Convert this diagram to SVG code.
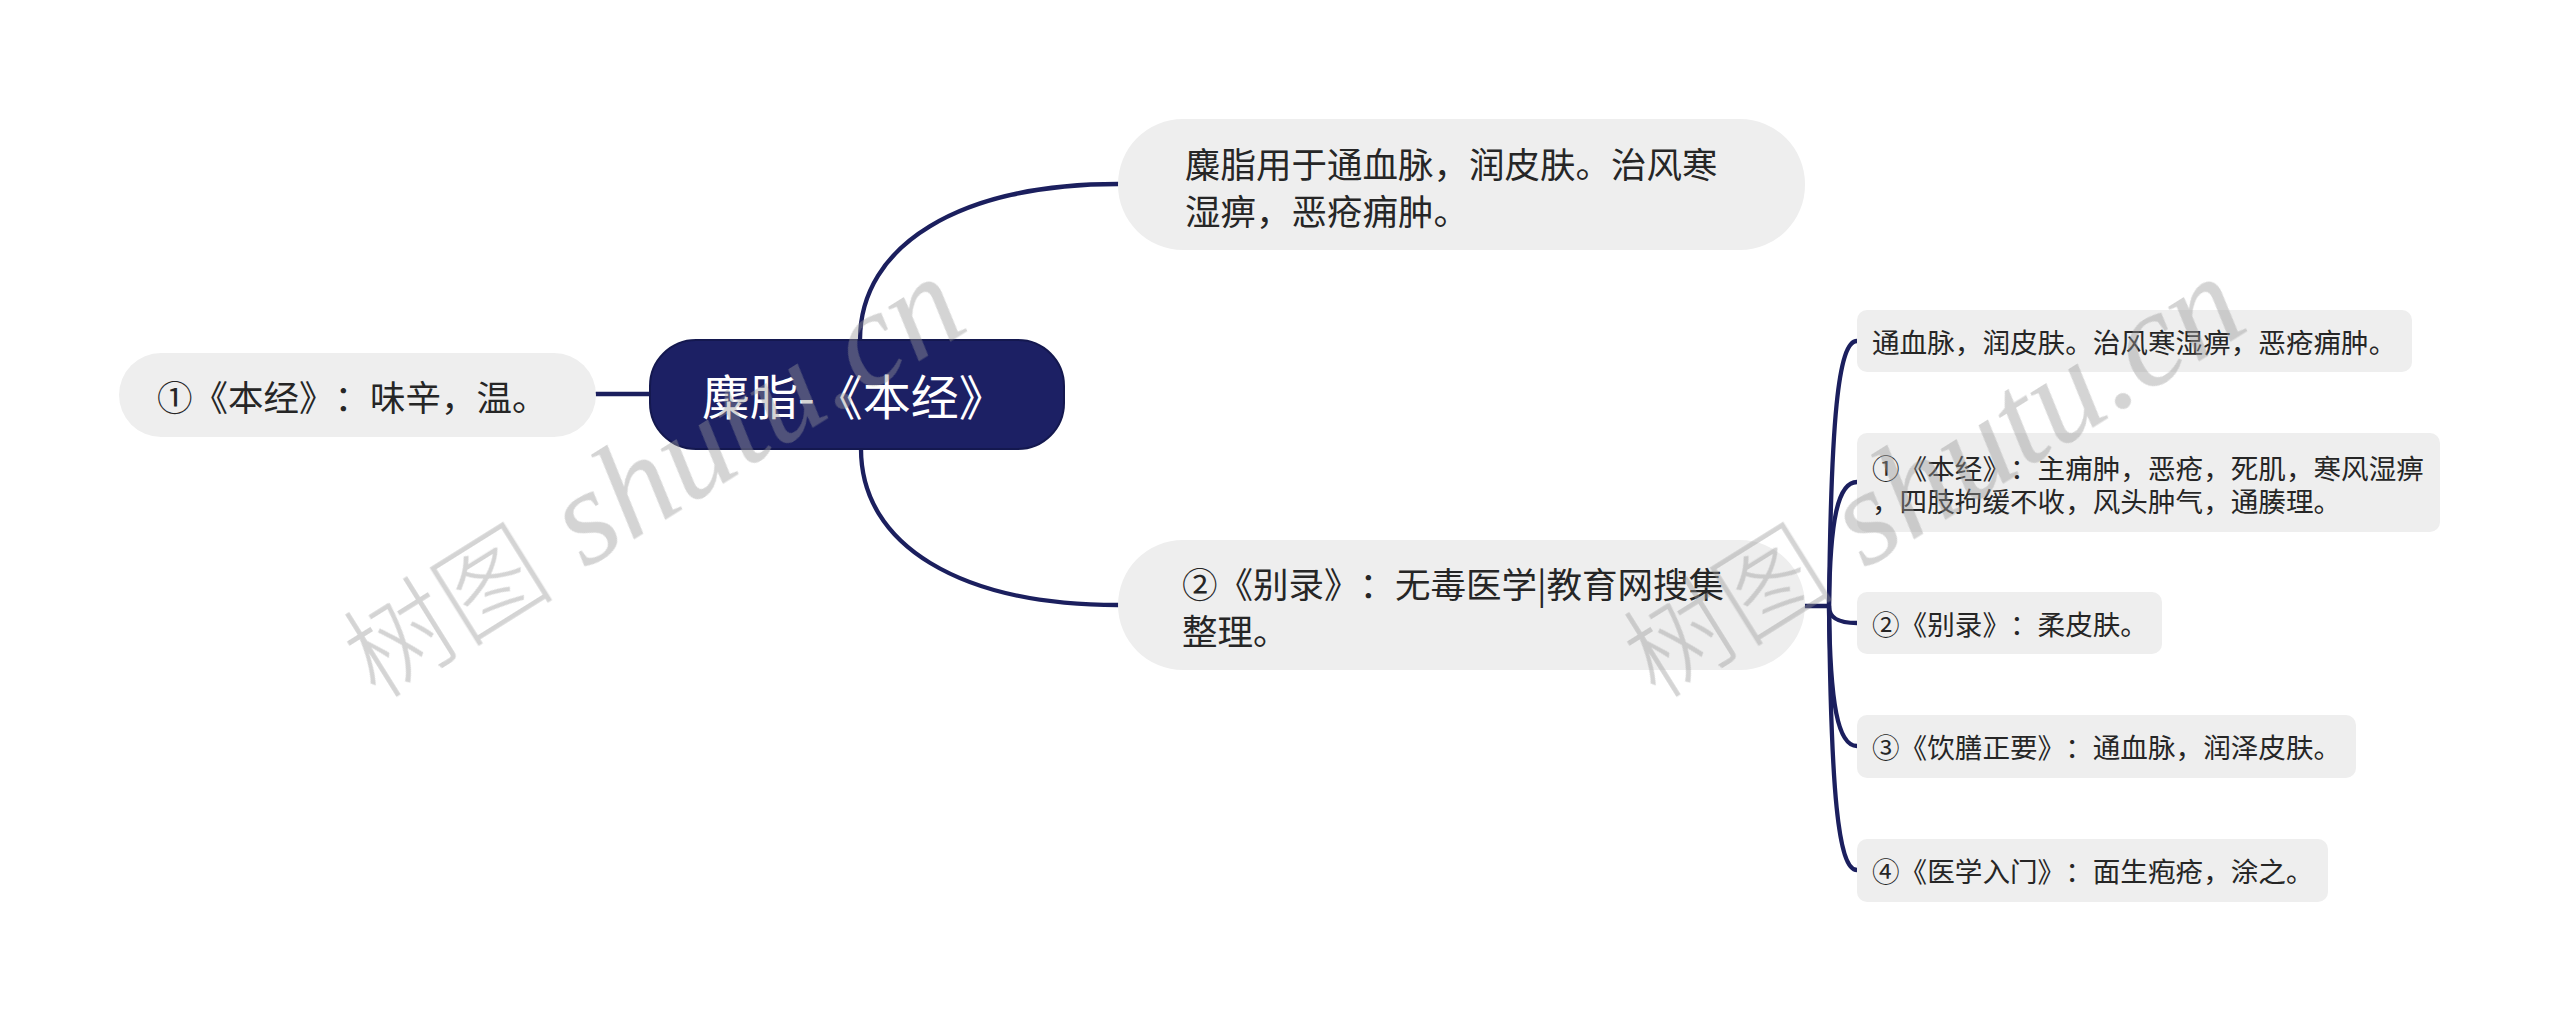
<svg xmlns="http://www.w3.org/2000/svg" width="2560" height="1021" viewBox="0 0 2560 1021">
<style>
.bg{fill:#ffffff}
.ln{fill:none;stroke:#1b1f5e;stroke-width:4.3;stroke-linecap:round}
.pill{fill:#eeeeee}
.leaf{fill:#eeeeee}
.root{fill:#1c2064;stroke:#14184f;stroke-width:2}
text{text-spacing-trim:space-all}
.t{font-family:"Noto Sans CJK SC","Noto Sans",sans-serif;fill:#262626;dominant-baseline:central}
.t1{font-size:35.5px}
.t2{font-size:27.6px}
.rt{font-family:"Noto Sans CJK SC","Noto Sans",sans-serif;fill:#ffffff;font-size:48px;dominant-baseline:central}
.wm{fill:#9a9a9a;opacity:0.42}
.wmc{font-family:"Noto Sans CJK SC",serif;font-size:106px;font-weight:300}
.wml{font-family:"Liberation Serif",serif;font-style:italic;font-size:136px}
</style>
<rect class="bg" x="0" y="0" width="2560" height="1021"/>
<g id="connectors">
  <path class="ln" d="M596 394 L650 394"/>
  <path class="ln" d="M860 340 C860 245 960 184 1118 184"/>
  <path class="ln" d="M861 449 C861 545 960 605 1118 605"/>
  <path class="ln" d="M1804 606 L1829 606"/>
  <path class="ln" d="M1829 606 C1831 421 1838 341 1857 341"/>
  <path class="ln" d="M1829 606 C1830 519 1838 482 1857 482"/>
  <path class="ln" d="M1829 606 C1829 618 1838 623 1857 623"/>
  <path class="ln" d="M1829 606 C1830 705 1838 746 1857 746"/>
  <path class="ln" d="M1829 606 C1831 791 1838 870 1857 870"/>
</g>
<g id="root">
  <rect class="root" x="650" y="340" width="414" height="109" rx="46"/>
  <text class="rt" x="702" y="394">麋脂-《本经》</text>
</g>
<g id="n-left">
  <rect class="pill" x="119" y="353" width="477" height="84" rx="42"/>
  <text class="t t1" x="157" y="395">①《本经》：味辛，温。</text>
</g>
<g id="n-top">
  <rect class="pill" x="1118" y="119" width="687" height="131" rx="65"/>
  <text class="t t1" x="1185" y="162">麋脂用于通血脉，润皮肤。治风寒</text>
  <text class="t t1" x="1185" y="209">湿痹，恶疮痈肿。</text>
</g>
<g id="n-bottom">
  <rect class="pill" x="1118" y="540" width="687" height="130" rx="65"/>
  <text class="t t1" x="1182" y="582">②《别录》：无毒医学|教育网搜集</text>
  <text class="t t1" x="1182" y="629">整理。</text>
</g>
<g id="c1">
  <rect class="leaf" x="1857" y="310" width="555" height="62" rx="10"/>
  <text class="t t2" x="1872" y="341">通血脉，润皮肤。治风寒湿痹，恶疮痈肿。</text>
</g>
<g id="c2">
  <rect class="leaf" x="1857" y="433" width="583" height="99" rx="10"/>
  <text class="t t2" x="1872" y="467">①《本经》：主痈肿，恶疮，死肌，寒风湿痹</text>
  <text class="t t2" x="1872" y="500">，四肢拘缓不收，风头肿气，通腠理。</text>
</g>
<g id="c3">
  <rect class="leaf" x="1857" y="592" width="305" height="62" rx="10"/>
  <text class="t t2" x="1872" y="623">②《别录》：柔皮肤。</text>
</g>
<g id="c4">
  <rect class="leaf" x="1857" y="715" width="499" height="63" rx="10"/>
  <text class="t t2" x="1872" y="746">③《饮膳正要》：通血脉，润泽皮肤。</text>
</g>
<g id="c5">
  <rect class="leaf" x="1857" y="839" width="471" height="63" rx="10"/>
  <text class="t t2" x="1872" y="870">④《医学入门》：面生疱疮，涂之。</text>
</g>
<g id="watermarks" class="wm">
  <text transform="translate(376 700) rotate(-32)"><tspan class="wmc">树图</tspan><tspan class="wml"> shutu.cn</tspan></text>
  <text transform="translate(1656 700) rotate(-32)"><tspan class="wmc">树图</tspan><tspan class="wml"> shutu.cn</tspan></text>
</g>
</svg>
